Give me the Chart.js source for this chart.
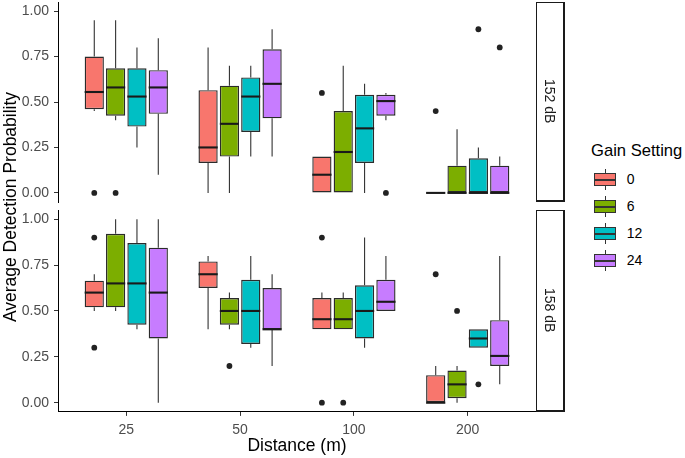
<!DOCTYPE html>
<html>
<head>
<meta charset="utf-8">
<title>Average Detection Probability by Distance</title>
<script src="https://cdn.jsdelivr.net/npm/chart.js"></script>
<style>
  body { margin: 0; background: #ffffff; font-family: 'Liberation Sans', Arial, sans-serif; }
  #wrap { position: relative; width: 685px; height: 458px; overflow: hidden; background: #fff; }
  canvas { position: absolute; left: 0; }
  .strip { position: absolute; left: 536px; width: 29px; box-sizing: border-box;
           border: 1px solid #1a1a1a; border-right-width: 2px; border-bottom-width: 2px;
           display: flex; align-items: center; justify-content: center;
           writing-mode: vertical-rl; font-size: 14px; color: #1a1a1a; }
  #ytitle { position: absolute; left: -120px; top: 196px; width: 260px; height: 22px; line-height: 22px;
            text-align: center; font-size: 17.5px; color: #000; transform: rotate(-90deg); white-space: nowrap; }
  #ltitle { position: absolute; left: 591px; top: 139.5px; font-size: 16.6px; line-height: 21px; color: #000; white-space: nowrap; }
  .key { position: absolute; left: 591.6px; width: 27px; height: 27px; }
  .key .wh { position: absolute; left: 13px; top: 2.7px; width: 1px; height: 21.6px; background: #333; }
  .key .bx { position: absolute; left: 2.7px; top: 6.75px; width: 21.6px; height: 13.5px; box-sizing: border-box; border: 1px solid #333; }
  .key .md { position: absolute; left: 2.7px; top: 12.8px; width: 21.6px; height: 1.6px; background: #333; }
  .klab { position: absolute; left: 626.7px; height: 27px; line-height: 27px; font-size: 14px; color: #000; }
</style>
</head>
<body>
<div id="wrap">
  <canvas id="top" width="537" height="204" style="top:0px"></canvas>
  <canvas id="bot" width="537" height="250" style="top:208px"></canvas>
  <div class="strip" style="top:2px;height:200px">152 dB</div>
  <div class="strip" style="top:210px;height:202px">158 dB</div>
  <div id="ytitle">Average Detection Probability</div>
  <div id="ltitle">Gain Setting</div>
</div>

<script>
// categories and ticks
const distances = ['25', '50', '100', '200'];
const gains = ['0', '6', '12', '24'];
const yTicks = [0, 0.25, 0.5, 0.75, 1];

// box stats per distance: [min, q1, median, q3, max]
// 152 dB
const box152_g0  = [[0.45, 0.46, 0.555, 0.75, 0.95], [0, 0.165, 0.25, 0.565, 0.80], [0, 0, 0.10, 0.20, 0.20], [0, 0, 0, 0, 0]];
const box152_g6  = [[0.40, 0.425, 0.58, 0.685, 0.95], [0, 0.20, 0.38, 0.59, 0.70], [0, 0, 0.225, 0.45, 0.70], [0, 0, 0, 0.15, 0.35]];
const box152_g12 = [[0.25, 0.365, 0.53, 0.685, 0.80], [0.20, 0.335, 0.53, 0.635, 0.70], [0, 0.165, 0.355, 0.54, 0.60], [0, 0, 0, 0.19, 0.25]];
const box152_g24 = [[0.10, 0.435, 0.58, 0.675, 0.85], [0.20, 0.41, 0.60, 0.79, 0.90], [0.40, 0.425, 0.505, 0.54, 0.55], [0, 0, 0, 0.15, 0.20]];
// 158 dB
const box158_g0  = [[0.50, 0.52, 0.60, 0.665, 0.70], [0.40, 0.625, 0.70, 0.77, 0.80], [0.40, 0.40, 0.455, 0.57, 0.60], [0, 0, 0, 0.15, 0.20]];
const box158_g6  = [[0.50, 0.52, 0.65, 0.92, 1.0], [0.40, 0.425, 0.50, 0.57, 0.60], [0.40, 0.40, 0.455, 0.57, 0.60], [0, 0.025, 0.10, 0.175, 0.20]];
const box158_g12 = [[0.40, 0.425, 0.65, 0.87, 1.0], [0.30, 0.32, 0.50, 0.67, 0.80], [0.30, 0.35, 0.50, 0.64, 0.90], [0.30, 0.30, 0.35, 0.40, 0.40]];
const box158_g24 = [[0, 0.35, 0.60, 0.845, 1.0], [0.20, 0.40, 0.40, 0.625, 0.70], [0.50, 0.50, 0.55, 0.67, 0.80], [0.10, 0.20, 0.255, 0.45, 0.80]];

// outliers per distance
const out152_g0  = [[0], [], [0.55], [0.45]];
const out152_g6  = [[0], [], [], []];
const out152_g12 = [[], [], [], [0.90]];
const out152_g24 = [[], [], [0], [0.80]];
const out158_g0  = [[0.90, 0.30], [], [0.90, 0], [0.70]];
const out158_g6  = [[], [0.20], [0], [0.50]];
const out158_g12 = [[], [], [], [0.10]];
const out158_g24 = [[], [], [], []];

const gainColors = ['#F8766D', '#7CAE00', '#00BFC4', '#C77CFF'];

Chart.defaults.font.family = "'Liberation Sans', Arial, sans-serif";

// whiskers, medians and outlier dots, placed from the bar elements + y scale
const boxExtras = {
  id: 'boxExtras',
  afterDatasetsDraw(chart) {
    const ctx = chart.ctx;
    const y = chart.scales.y;
    chart.data.datasets.forEach((ds, d) => {
      const meta = chart.getDatasetMeta(d);
      meta.data.forEach((bar, i) => {
        const [mn, q1, med, q3, mx] = ds.stats[i];
        const x = bar.x, w = bar.width;
        ctx.save();
        ctx.strokeStyle = '#333';
        ctx.lineWidth = 1.1;
        ctx.beginPath();
        ctx.moveTo(x, y.getPixelForValue(q3));
        ctx.lineTo(x, y.getPixelForValue(mx));
        ctx.moveTo(x, y.getPixelForValue(q1));
        ctx.lineTo(x, y.getPixelForValue(mn));
        ctx.stroke();
        ctx.strokeStyle = '#1a1a1a';
        ctx.lineWidth = 2.1;
        ctx.beginPath();
        ctx.moveTo(x - w / 2, y.getPixelForValue(med));
        ctx.lineTo(x + w / 2, y.getPixelForValue(med));
        ctx.stroke();
        ctx.fillStyle = '#222';
        ds.outliers[i].forEach(v => {
          ctx.beginPath();
          ctx.arc(x, y.getPixelForValue(v), 2.9, 0, Math.PI * 2);
          ctx.fill();
        });
        ctx.restore();
      });
    });
  }
};

function makePanel(id, boxes, outs, showX) {
  const datasets = gains.map((g, k) => ({
    label: g,
    data: distances.map((d, i) => ({ x: i + 1, y: [boxes[k][i][1], boxes[k][i][3]] })),
    stats: boxes[k],
    outliers: outs[k],
    backgroundColor: gainColors[k],
    borderColor: '#2b2b2b',
    borderWidth: 1.4,
    borderSkipped: false,
    categoryPercentage: 0.75,
    barPercentage: 0.9
  }));

  return new Chart(document.getElementById(id), {
    type: 'bar',
    data: { datasets },
    plugins: [boxExtras],
    options: {
      responsive: false,
      animation: false,
      layout: { padding: { top: 2, bottom: showX ? 0 : 2, left: 0, right: 1 } },
      plugins: { legend: { display: false }, tooltip: { enabled: false } },
      scales: {
        x: {
          type: 'linear',
          display: showX,
          min: 0.4,
          max: 4.6,
          offset: false,
          afterBuildTicks: s => { s.ticks = distances.map((d, i) => ({ value: i + 1 })); },
          afterFit: s => {
            if (showX) s.height = 46.1;
            s.paddingLeft = 0;
            s.paddingRight = 0;
          },
          grid: { display: true, drawOnChartArea: false, drawTicks: true, tickLength: 4, tickColor: '#333', offset: false },
          border: { display: true, color: '#000', width: 1 },
          ticks: {
            padding: 6,
            color: '#4D4D4D',
            font: { size: 14 },
            maxRotation: 0,
            autoSkip: false,
            callback: (v, i) => distances[i]
          },
          title: { display: true, text: 'Distance (m)', color: '#000', font: { size: 17.5 }, padding: { top: 0, bottom: 1 } }
        },
        y: {
          min: -0.05,
          max: 1.05,
          afterBuildTicks: s => { s.ticks = yTicks.map(v => ({ value: v })); },
          afterFit: s => { s.width = 58; s.paddingTop = 0; s.paddingBottom = 0; },
          grid: { display: true, drawOnChartArea: false, drawTicks: true, tickLength: 4, tickColor: '#333' },
          border: { display: true, color: '#000', width: 1 },
          ticks: { padding: 5, color: '#4D4D4D', font: { size: 14 }, callback: v => v.toFixed(2) }
        }
      }
    }
  });
}

makePanel('top', [box152_g0, box152_g6, box152_g12, box152_g24], [out152_g0, out152_g6, out152_g12, out152_g24], false);
makePanel('bot', [box158_g0, box158_g6, box158_g12, box158_g24], [out158_g0, out158_g6, out158_g12, out158_g24], true);

// legend with boxplot keys
const wrap = document.getElementById('wrap');
gains.forEach((g, k) => {
  const top = 166.2 + k * 27;
  const key = document.createElement('div');
  key.className = 'key';
  key.style.top = top + 'px';
  key.innerHTML = '<div class="wh"></div><div class="bx" style="background:' + gainColors[k] + '"></div><div class="md"></div>';
  wrap.appendChild(key);
  const lab = document.createElement('div');
  lab.className = 'klab';
  lab.style.top = top + 'px';
  lab.textContent = g;
  wrap.appendChild(lab);
});
</script>
</body>
</html>
